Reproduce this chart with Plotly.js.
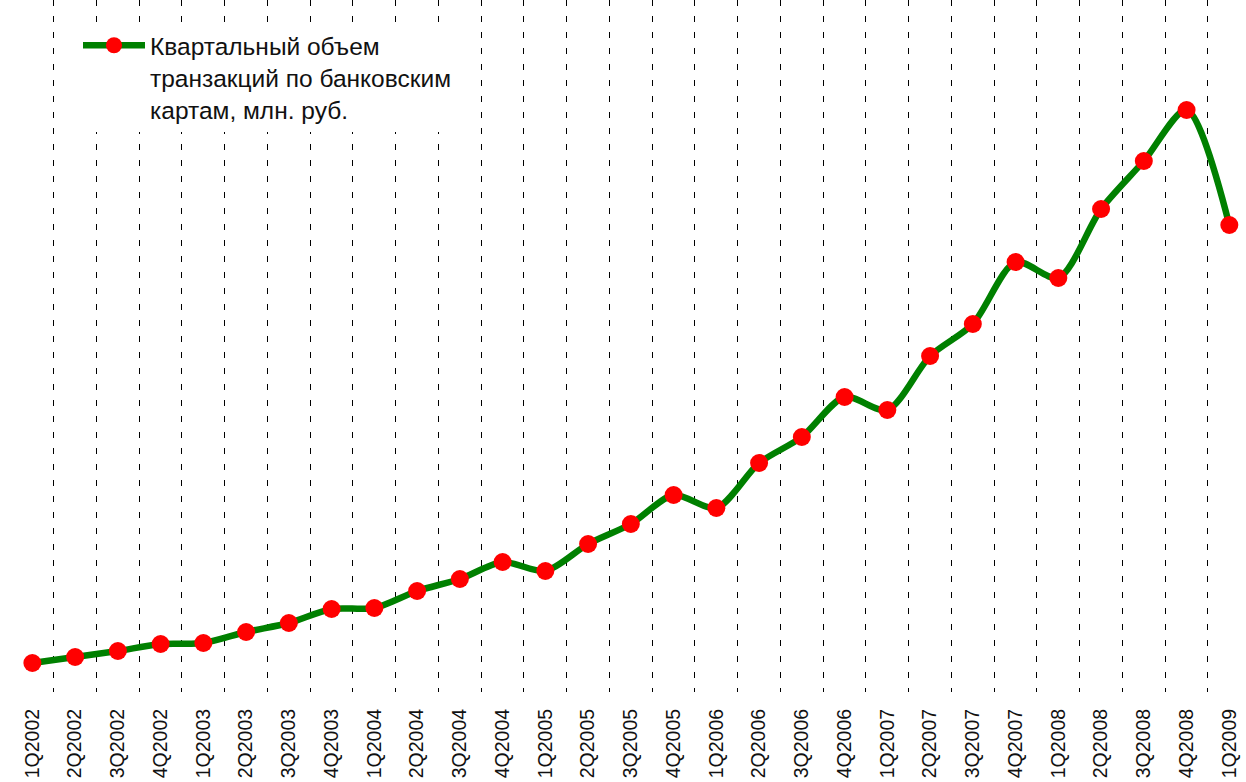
<!DOCTYPE html>
<html>
<head>
<meta charset="utf-8">
<script src="https://cdn.plot.ly/plotly-3.0.1.min.js"></script>
<style>html,body{margin:0;padding:0;background:#fff;}#chart{width:1246px;height:782px;}</style>
</head>
<body>
<div id="chart"></div>
<script>
const quarters = ["1Q2002","2Q2002","3Q2002","4Q2002","1Q2003","2Q2003","3Q2003","4Q2003",
  "1Q2004","2Q2004","3Q2004","4Q2004","1Q2005","2Q2005","3Q2005","4Q2005",
  "1Q2006","2Q2006","3Q2006","4Q2006","1Q2007","2Q2007","3Q2007","4Q2007",
  "1Q2008","2Q2008","3Q2008","4Q2008","1Q2009"];
const volumes = [101500,122500,143500,168000,171500,210000,241500,290500,
  294000,353500,395500,455000,423500,518000,588000,689500,
  644000,801500,892500,1032500,987000,1176000,1288000,1505000,
  1449000,1690500,1858500,2037000,1634500];
const seriesName = "Квартальный объем<br>транзакций по банковским<br>картам, млн. руб.";

const trace = {
  x: quarters, y: volumes, type: "scatter", mode: "lines+markers",
  name: seriesName,
  line: {color: "#008000", width: 6.5, shape: "spline", smoothing: 0.8},
  marker: {color: "#ff0000", size: 18}
};
const layout = {
  width: 1246, height: 782,
  margin: {l: 11, r: 0, t: 0, b: 90},
  paper_bgcolor: "#fff", plot_bgcolor: "#fff",
  font: {family: "Liberation Sans, Arial, sans-serif", color: "#111", size: 24},
  showlegend: true,
  legend: {x: (78 - 11) / 1235, y: 0.967, xanchor: "left", yanchor: "top", bgcolor: "#fff", borderwidth: 0,
    font: {size: 24.5, color: "#111"}, itemwidth: 62, valign: "top", tracegroupgap: 0},
  xaxis: {type: "category", range: [-0.5, 28.39], tickson: "boundaries",
    showgrid: true, gridcolor: "#000", gridwidth: 1, griddash: "6px,10px",
    showline: false, zeroline: false, ticks: "", tickangle: -90,
    tickfont: {size: 19.5, color: "#111"}, ticklabelstandoff: 12},
  yaxis: {range: [0, 2422000], showgrid: false, zeroline: false, showline: false,
    showticklabels: false, ticks: ""}
};
Plotly.newPlot("chart", [trace], layout, {displayModeBar: false, staticPlot: true});
</script>
</body>
</html>
